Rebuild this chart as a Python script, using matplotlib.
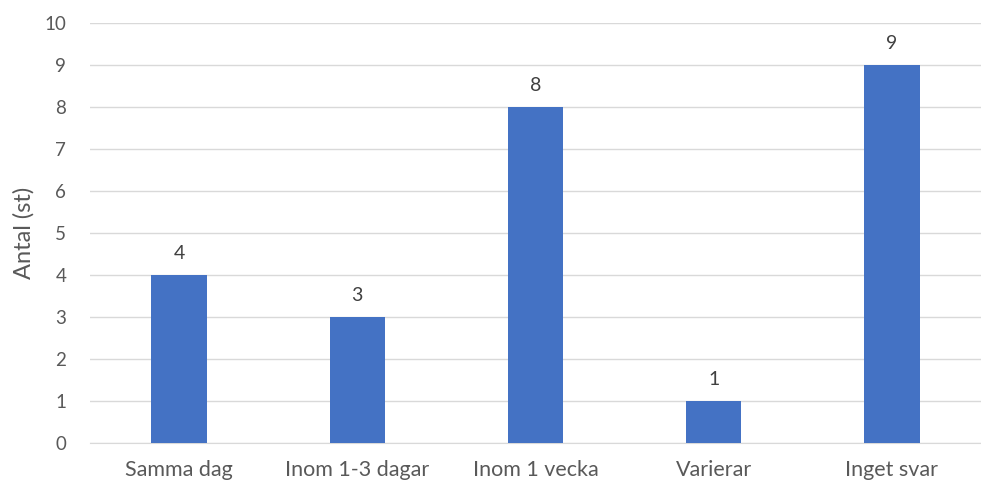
import matplotlib.pyplot as plt
import numpy as np

plt.rcParams['font.family'] = ['Lato', 'DejaVu Sans']

# ============================================
# Data
# ============================================

categories = ["Samma dag", "Inom 1-3 dagar", "Inom 1 vecka", "Varierar", "Inget svar"]
values = [4, 3, 8, 1, 9]
y_ticks = list(range(0, 11))

BAR_COLOR = "#4472C4"
GRID_COLOR = "#D9D9D9"
TEXT_COLOR = "#595959"

# ============================================
# Plot
# ============================================

fig = plt.figure(figsize=(9.81, 4.86), dpi=100)
ax = fig.add_axes([0.0917, 0.0885, 0.9083, 0.8642])

x = np.arange(len(categories))
ax.bar(x, values, width=0.31, color=BAR_COLOR, zorder=3)

for xi, v in zip(x, values):
    ax.text(xi, v + 0.3, str(v), ha="center", va="bottom",
            fontsize=14, color="#404040")

ax.set_xlim(-0.5, len(categories) - 0.5)
ax.set_ylim(0, 10)
ax.set_yticks(y_ticks)
ax.set_xticks(x)
ax.set_xticklabels(categories)
ax.tick_params(axis="both", length=0, colors=TEXT_COLOR)
ax.tick_params(axis="x", pad=12, labelsize=15.5)
ax.tick_params(axis="y", pad=17, labelsize=13.5)

ax.yaxis.grid(True, color=GRID_COLOR, linewidth=1, zorder=0)
for s in ["top", "right", "left"]:
    ax.spines[s].set_visible(False)
ax.spines["bottom"].set_color(GRID_COLOR)

ax.set_ylabel("Antal (st)", fontsize=17, color=TEXT_COLOR, labelpad=7)

fig.savefig("out.png", dpi=100)
